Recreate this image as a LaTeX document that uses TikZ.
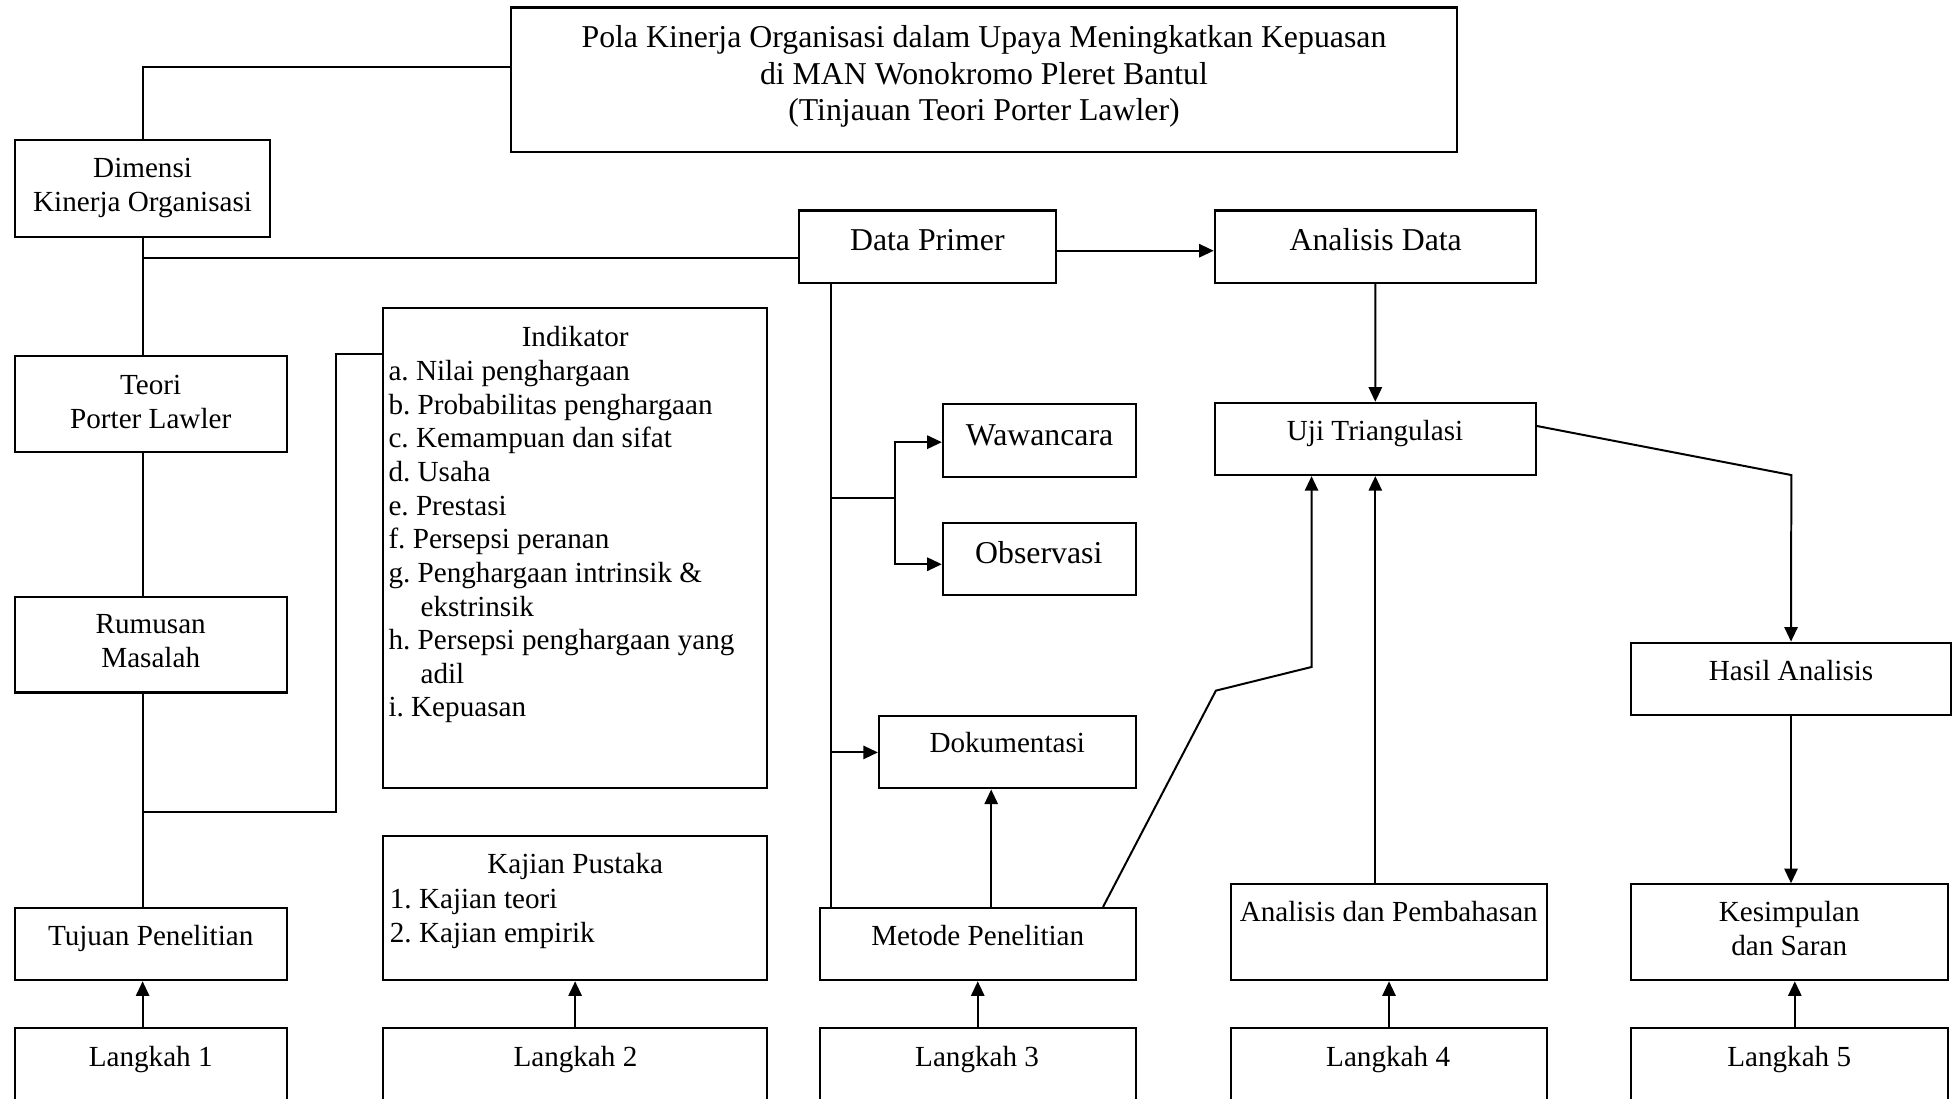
\documentclass[tikz,border=0pt]{standalone}
\usepackage{fontspec}
\setmainfont{Liberation Serif}
\frenchspacing
\usetikzlibrary{arrows.meta,fit}
\begin{document}
\begin{tikzpicture}[x=0.47pt,y=-0.47pt,
  box/.style={draw, line width=0.8pt, inner sep=0pt, rectangle},
  ln/.style={line width=0.75pt},
  arr/.style={line width=0.75pt, -{Triangle[length=5.5pt,width=5pt]}},
  t11/.style={inner sep=0pt, font=\fontsize{11}{12.7}\selectfont},
  t12/.style={inner sep=0pt, font=\fontsize{12}{13.9}\selectfont},
]
\useasboundingbox (0,0) rectangle (1568,882);
\clip (0,0) rectangle (1568,882);

% boxes
\node[box, fit={(410,6) (1170,122)}] (title) {};
\node[box, fit={(12,112.5) (217,190)}] (dim) {};
\node[box, fit={(12,286) (230.5,363)}] (teori) {};
\node[box, fit={(12,479) (230.5,556)}] (rum) {};
\node[box, fit={(12,729) (230.5,787)}] (tuj) {};
\node[box, fit={(12,825.5) (230.5,900)}] (lk1) {};
\node[box, fit={(307.5,247) (616,633)}] (ind) {};
\node[box, fit={(307.5,671) (616,787)}] (kaj) {};
\node[box, fit={(307.5,825.5) (616,900)}] (lk2) {};
\node[box, fit={(641.4,169) (847.7,227)}] (dp) {};
\node[box, fit={(975.3,169) (1233,227)}] (ad) {};
\node[box, fit={(757,324.4) (912,382.7)}] (waw) {};
\node[box, fit={(757,419.6) (912,477.7)}] (obs) {};
\node[box, fit={(705.7,575.2) (911.8,633)}] (dok) {};
\node[box, fit={(658.2,729) (911.8,787)}] (met) {};
\node[box, fit={(658.2,825.5) (911.8,900)}] (lk3) {};
\node[box, fit={(975.4,323.4) (1233,381.4)}] (uji) {};
\node[box, fit={(988.5,710) (1241.9,787)}] (ap) {};
\node[box, fit={(988.5,825.5) (1241.9,900)}] (lk4) {};
\node[box, fit={(1309.4,516) (1566.5,574)}] (has) {};
\node[box, fit={(1309.4,710) (1564,787)}] (kes) {};
\node[box, fit={(1309.4,825.5) (1564,900)}] (lk5) {};

% texts
\node[t12, align=center, anchor=north] (titletxt) at (790,16.8) {\strut Pola Kinerja Organisasi dalam Upaya Meningkatkan Kepuasan\\di MAN Wonokromo Pleret Bantul\\(Tinjauan Teori Porter Lawler)};
\node[t11, align=center, anchor=north] (dimtxt) at (114.5,123.1) {\strut Dimensi\\Kinerja Organisasi};
\node[t11, align=center, anchor=north] (teoritxt) at (121,297.6) {\strut Teori\\Porter Lawler};
\node[t11, align=center, anchor=north] (rumtxt) at (121,489.6) {\strut Rumusan\\Masalah};
\node[t11, anchor=base] (tujtxt) at (121,759.5) {Tujuan Penelitian};
\node[t11, anchor=base] (lk1txt) at (121,856.5) {Langkah 1};
\node[t11, anchor=base] (indh) at (461.8,278) {Indikator};
\node[t11, align=left, anchor=north west] (indl) at (311.5,286.1) {\strut a. Nilai penghargaan\\b. Probabilitas penghargaan\\c. Kemampuan dan sifat\\d. Usaha\\e. Prestasi\\f. Persepsi peranan\\g. Penghargaan intrinsik \&\\\hspace*{12.1pt}ekstrinsik\\h. Persepsi penghargaan yang\\\hspace*{12.1pt}adil\\i. Kepuasan};
\node[t11, anchor=base] (kajh) at (461.8,701.7) {Kajian Pustaka};
\node[t11, align=left, anchor=north west] (kajl) at (312.6,710.1) {\strut 1. Kajian teori\\2. Kajian empirik};
\node[t11, anchor=base] (lk2txt) at (462,856.5) {Langkah 2};
\node[t12, anchor=base] (dptxt) at (744.5,201) {Data Primer};
\node[t12, anchor=base] (adtxt) at (1104.5,201.3) {Analisis Data};
\node[t12, anchor=base] (wawtxt) at (834.6,357.3) {Wawancara};
\node[t12, anchor=base] (obstxt) at (834,452.8) {Observasi};
\node[t11, anchor=base] (doktxt) at (808.7,604.5) {Dokumentasi};
\node[t11, anchor=base] (mettxt) at (785,759.5) {Metode Penelitian};
\node[t11, anchor=base] (lk3txt) at (784.5,856.5) {Langkah 3};
\node[t11, anchor=base] (ujitxt) at (1104,353.5) {Uji Triangulasi};
\node[t11, anchor=base] (aptxt) at (1115,739.5) {Analisis dan Pembahasan};
\node[t11, anchor=base] (lk4txt) at (1114.5,856.5) {Langkah 4};
\node[t11, anchor=base] (hastxt) at (1438,546.5) {Hasil Analisis};
\node[t11, align=center, anchor=north] (kestxt) at (1436.5,720.6) {\strut Kesimpulan\\dan Saran};
\node[t11, anchor=base] (lk5txt) at (1436.5,856.5) {Langkah 5};

% connectors
\coordinate (yA) at (0,53.5);
\draw[ln] (dim.north) |- (title.west |- yA);
\draw[ln] (dim.south) -- (dim.south |- teori.north);
\coordinate (yB) at (0,207.4);
\draw[ln] (dim.south |- yB) -- (dp.west |- yB);
\draw[ln] (dim.south |- teori.south) -- (dim.south |- rum.north);
\draw[ln] (dim.south |- rum.south) -- (dim.south |- tuj.north);
\coordinate (j1) at (114.5,651.7);
\coordinate (j2) at (269.5,284.5);
\draw[ln] (j1) -| (j2) -- (ind.west |- j2);
\draw[arr] (dim.south |- lk1.north) -- (dim.south |- tuj.south);
\draw[arr] (lk2.north) -- (kaj.south);
\coordinate (yF) at (0,201.3);
\draw[arr] (dp.east |- yF) -- (ad.west |- yF);
\draw[arr] (ad.south) -- (uji.north);
\coordinate (xM) at (667.5,0);
\draw[ln] (dp.south -| xM) -- (met.north -| xM);
\coordinate (b0) at (667.5,400);
\coordinate (b1) at (718.6,400);
\coordinate (bw) at (718.6,355);
\coordinate (bo) at (718.6,453);
\draw[ln] (b0) -- (b1);
\draw[arr] (b1) -- (bw) -- (waw.west |- bw);
\draw[arr] (b1) -- (bo) -- (obs.west |- bo);
\draw[arr] (dok.west -| xM) -- (dok.west);
\coordinate (xd) at (795.8,0);
\draw[arr] (met.north -| xd) -- (dok.south -| xd);
\draw[arr] (lk3.north) -- (met.south);
\coordinate (xq) at (885.6,0);
\coordinate (q1) at (976.2,554.5);
\coordinate (q2) at (1053,535.5);
\draw[arr] (met.north -| xq) -- (q1) -- (q2) -- (uji.south -| q2);
\draw[arr] (ap.north -| uji.south) -- (uji.south);
\draw[arr] (lk4.north) -- (ap.south);
\coordinate (yU) at (0,342);
\coordinate (u2) at (1438.2,381.4);
\draw[arr] (uji.east |- yU) -- (u2) -- (has.north);
\draw[arr] (has.south) -- (has.south |- kes.north);
\coordinate (x5) at (1441,0);
\draw[arr] (lk5.north -| x5) -- (kes.south -| x5);
\end{tikzpicture}
\end{document}
